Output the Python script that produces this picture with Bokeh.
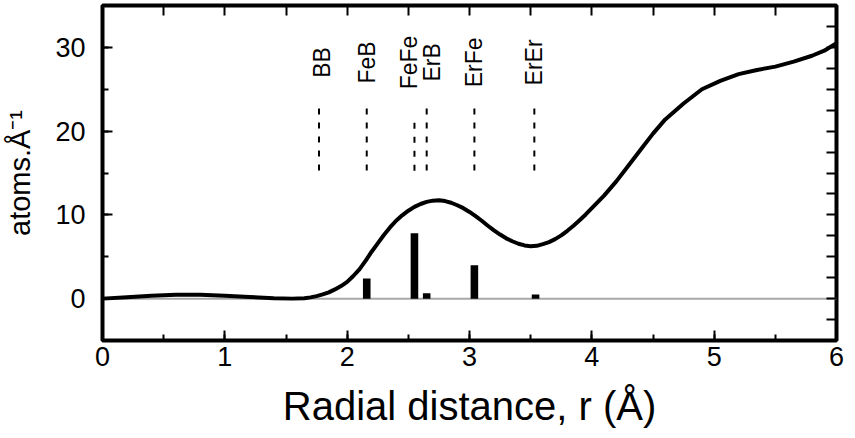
import numpy as np
from bokeh.plotting import figure
from bokeh.models import (Range1d, LinearAxis, SingleIntervalTicker, Span,
                          ColumnDataSource, CustomJSTickFormatter)
from bokeh.core.properties import value
from bokeh.embed import file_html
from bokeh.resources import INLINE

# Radial distribution curve
r_curve = [0.0, 0.2, 0.4, 0.6, 0.8, 1.0, 1.2, 1.4, 1.55, 1.65,
           1.70, 1.75, 1.80, 1.85, 1.90, 1.95, 2.00, 2.05, 2.10, 2.15,
           2.20, 2.25, 2.30, 2.35, 2.40, 2.45, 2.50, 2.55, 2.60, 2.65,
           2.70, 2.75, 2.80, 2.85, 2.90, 2.95, 3.00, 3.05, 3.10, 3.15,
           3.20, 3.25, 3.30, 3.35, 3.40, 3.45, 3.50, 3.55, 3.60, 3.65,
           3.70, 3.75, 3.80, 3.85, 3.90, 3.95, 4.00, 4.10, 4.20, 4.30,
           4.40, 4.50, 4.60, 4.75, 4.90, 5.05, 5.20, 5.35, 5.50, 5.65,
           5.80, 5.90, 6.00]
g_curve = [0.0, 0.15, 0.35, 0.45, 0.45, 0.35, 0.2, 0.05, 0.0, 0.05,
           0.15, 0.3, 0.5, 0.75, 1.1, 1.5, 2.0, 2.7, 3.5, 4.5,
           5.6, 6.6, 7.6, 8.5, 9.3, 9.95, 10.5, 10.95, 11.3, 11.55,
           11.7, 11.75, 11.65, 11.45, 11.15, 10.8, 10.35, 9.85, 9.3, 8.7,
           8.15, 7.65, 7.2, 6.85, 6.55, 6.35, 6.25, 6.3, 6.5, 6.75,
           7.1, 7.55, 8.1, 8.7, 9.35, 10.05, 10.8, 12.3, 14.0, 15.9,
           17.8, 19.7, 21.4, 23.3, 25.0, 26.0, 26.8, 27.3, 27.7, 28.3,
           29.0, 29.6, 30.5]

# Partial coordination bars
bar_r = [2.16, 2.55, 2.65, 3.04, 3.54]
bar_n = [2.4, 7.8, 0.65, 4.0, 0.5]

# Pair distance markers
pair_names = ["BB", "FeB", "FeFe", "ErB", "ErFe", "ErEr"]
pair_r = [1.77, 2.16, 2.55, 2.65, 3.04, 3.53]
pair_top = [22.7, 22.7, 21.0, 22.7, 22.7, 22.7]
pair_bottom = [15.0, 15.0, 15.0, 15.0, 15.0, 15.0]
label_y = 28.2
label_dx = [3, 0, -5, 5, 0, 0]

FONT = "Liberation Sans"

p = figure(width=855, height=438, output_backend="svg", toolbar_location=None,
           x_range=Range1d(0, 6), y_range=Range1d(-5, 35),
           min_border_left=102, min_border_right=19, min_border_top=5, min_border_bottom=98,
           x_axis_label="Radial distance, r (Å)", y_axis_label="atoms.Å⁻¹")
p.grid.visible = False
p.outline_line_color = "black"
p.outline_line_width = 4
p.background_fill_color = "white"
p.border_fill_color = "white"

# zero line
p.add_layout(Span(location=0, dimension="width", line_color="#a8a8a8", line_width=2, level="underlay"))

xa = p.xaxis[0]
xa.ticker = SingleIntervalTicker(interval=1, num_minor_ticks=2)
ya = p.yaxis[0]
ya.ticker = SingleIntervalTicker(interval=10, num_minor_ticks=2)

for ax in (xa, ya):
    ax.axis_line_color = None
    ax.major_tick_in = 10
    ax.major_tick_out = 0
    ax.minor_tick_in = 6
    ax.minor_tick_out = 0
    ax.major_tick_line_width = 2
    ax.minor_tick_line_width = 2
    ax.major_tick_line_color = "black"
    ax.minor_tick_line_color = "black"
    ax.major_label_text_font = FONT
    ax.major_label_text_font_size = "27px"
    ax.major_label_text_color = "black"
    ax.axis_label_text_font = FONT
    ax.axis_label_text_font_style = "normal"
    ax.axis_label_text_color = "black"

xa.major_label_standoff = 6
xa.axis_label_text_font_size = "40px"
xa.axis_label_standoff = 15
ya.major_label_standoff = 17
ya.axis_label_text_font_size = "29px"
ya.axis_label_standoff = 16

# top and right tick-only axes (no labels)
blank = CustomJSTickFormatter(code="return '';")
top = LinearAxis(ticker=SingleIntervalTicker(interval=0.5, num_minor_ticks=0), formatter=blank)
right = LinearAxis(ticker=SingleIntervalTicker(interval=2.5, num_minor_ticks=0), formatter=blank)
for ax in (top, right):
    ax.axis_line_color = None
    ax.major_tick_in = 10
    ax.major_tick_out = 0
    ax.minor_tick_line_color = None
    ax.major_tick_line_width = 2
    ax.major_label_standoff = 0
p.add_layout(top, "above")
p.add_layout(right, "right")

# curve
p.line(r_curve, g_curve, line_color="black", line_width=4, line_join="round")

# bars
p.vbar(x=bar_r, top=bar_n, bottom=0, width=0.062, fill_color="black", line_color=None)

# dashed markers (drawn top to bottom)
p.segment(x0=pair_r, y0=pair_top, x1=pair_r, y1=pair_bottom,
          line_color="black", line_width=2, line_dash="6 8")

src = ColumnDataSource(dict(x=pair_r, y=[label_y] * len(pair_r), t=pair_names, dx=label_dx))
p.text(x="x", y="y", text="t", x_offset="dx", source=src, angle=np.pi / 2,
       text_align="center", text_baseline="middle", text_font=value(FONT),
       text_font_size="23px", text_color="black")

open("out.html", "w").write(file_html(p, INLINE))
